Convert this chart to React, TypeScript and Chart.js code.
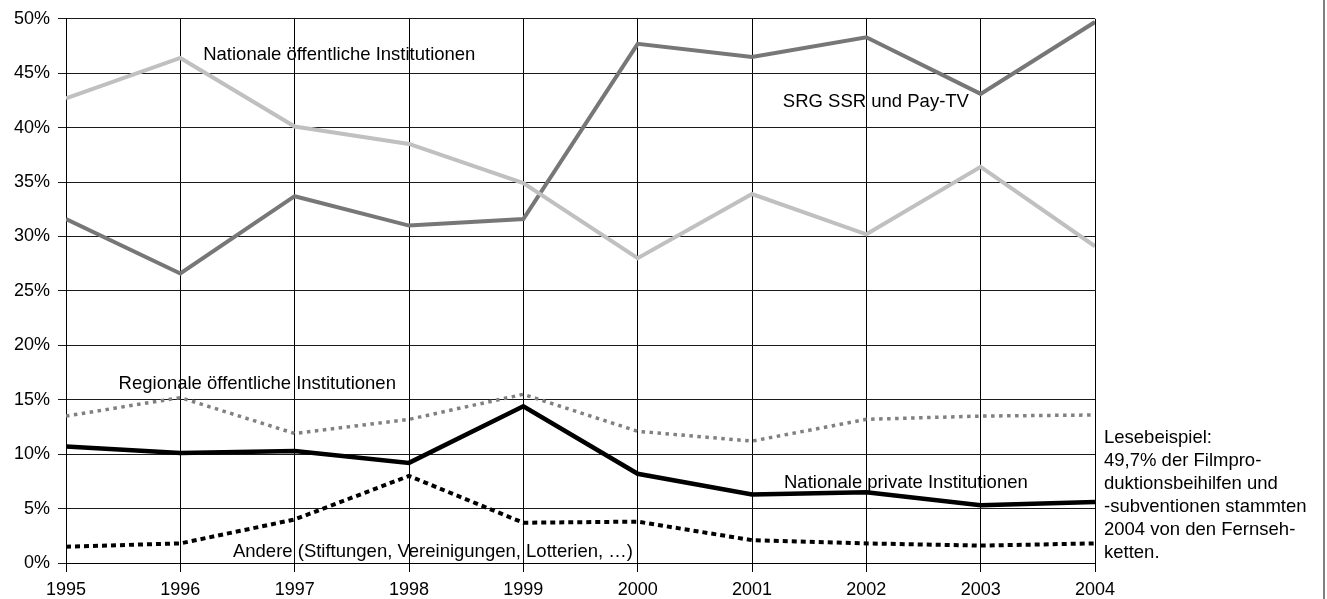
import React, { useEffect, useRef } from "react";
import { Chart, registerables } from "chart.js";

Chart.register(...registerables);

const years = [1995, 1996, 1997, 1998, 1999, 2000, 2001, 2002, 2003, 2004];
const srgSsr = [31.6, 26.6, 33.7, 31.0, 31.6, 47.7, 46.5, 48.3, 43.1, 49.7];
const nationaleOeffentliche = [42.7, 46.4, 40.1, 38.5, 34.9, 28.0, 33.9, 30.2, 36.4, 29.1];
const regionaleOeffentliche = [13.5, 15.2, 11.9, 13.2, 15.5, 12.1, 11.2, 13.2, 13.5, 13.6];
const nationalePrivate = [10.7, 10.1, 10.3, 9.2, 14.4, 8.2, 6.3, 6.5, 5.3, 5.6];
const andere = [1.5, 1.8, 4.0, 8.0, 3.7, 3.8, 2.1, 1.8, 1.6, 1.8];

const yTicks = [0, 5, 10, 15, 20, 25, 30, 35, 40, 45, 50];

const seriesLabels = [
  "SRG SSR und Pay-TV",
  "Nationale öffentliche Institutionen",
  "Regionale öffentliche Institutionen",
  "Nationale private Institutionen",
  "Andere (Stiftungen, Vereinigungen, Lotterien, …)",
];

// in-chart text labels anchored at data coordinates [year, percent]
const labelTexts = [
  "Nationale öffentliche Institutionen",
  "SRG SSR und Pay-TV",
  "Regionale öffentliche Institutionen",
  "Nationale private Institutionen",
  "Andere (Stiftungen, Vereinigungen, Lotterien, …)",
];
const labelX = [1996.2, 2001.27, 1995.46, 2001.28, 1996.46];
const labelY = [46.2, 41.9, 16.0, 6.9, 0.55];

const noteLines = [
  "Lesebeispiel:",
  "49,7% der Filmpro-",
  "duktionsbeihilfen und",
  "-subventionen stammten",
  "2004 von den Fernseh-",
  "ketten.",
];
const noteAnchorY = 11.0;

const FONT = '"Liberation Sans", Arial, Helvetica, sans-serif';

const toPoints = (vals: number[]) => vals.map((v, i) => ({ x: years[i], y: v }));

export default function App() {
  const ref = useRef<HTMLCanvasElement | null>(null);

  useEffect(() => {
    document.body.style.margin = "0";
    const canvas = ref.current;
    if (!canvas) return;

    const textPlugin = {
      id: "texts",
      afterDatasetsDraw(chart: any) {
        const ctx = chart.ctx;
        const xs = chart.scales.x;
        const ys = chart.scales.y;
        ctx.save();
        ctx.fillStyle = "#000";
        ctx.font = `18.5px ${FONT}`;
        ctx.textBaseline = "alphabetic";
        ctx.textAlign = "left";
        labelTexts.forEach((t, i) => {
          ctx.fillText(t, xs.getPixelForValue(labelX[i]), ys.getPixelForValue(labelY[i]));
        });
        ctx.font = `18.5px ${FONT}`;
        const nx = chart.chartArea.right + 9;
        const ny = ys.getPixelForValue(noteAnchorY);
        noteLines.forEach((t, i) => {
          ctx.fillText(t, nx, ny + i * 23);
        });
        // right frame line
        ctx.strokeStyle = "#808080";
        ctx.lineWidth = 2;
        ctx.beginPath();
        ctx.moveTo(chart.width - 3, 0);
        ctx.lineTo(chart.width - 3, chart.height);
        ctx.stroke();
        ctx.restore();
      },
    };

    const chart = new Chart(canvas, {
      type: "line",
      data: {
        datasets: [
          {
            label: seriesLabels[1],
            data: toPoints(nationaleOeffentliche),
            borderColor: "#c0c0c0",
            borderWidth: 4,
          },
          {
            label: seriesLabels[0],
            data: toPoints(srgSsr),
            borderColor: "#777777",
            borderWidth: 4,
          },
          {
            label: seriesLabels[3],
            data: toPoints(nationalePrivate),
            borderColor: "#000000",
            borderWidth: 4.5,
          },
          {
            label: seriesLabels[2],
            data: toPoints(regionaleOeffentliche),
            borderColor: "#808080",
            borderWidth: 3.5,
            borderDash: [3.5, 4.5],
          },
          {
            label: seriesLabels[4],
            data: toPoints(andere),
            borderColor: "#000000",
            borderWidth: 4,
            borderDash: [5, 4],
          },
        ],
      },
      options: {
        animation: false,
        responsive: false,
        devicePixelRatio: 1,
        layout: { padding: { top: 17, right: 232, left: 0, bottom: 0 } },
        elements: {
          point: { radius: 0, hoverRadius: 0 },
          line: { tension: 0, fill: false, borderCapStyle: "butt", borderJoinStyle: "miter" },
        },
        plugins: {
          legend: { display: false },
          tooltip: { enabled: false },
          title: { display: false },
        },
        scales: {
          x: {
            type: "linear",
            min: years[0],
            max: years[years.length - 1],
            afterFit: (s: any) => {
              s.height = 36;
            },
            afterBuildTicks: (s: any) => {
              s.ticks = years.map((v) => ({ value: v }));
            },
            ticks: {
              color: "#000",
              font: { family: FONT, size: 18 },
              padding: 7,
              maxRotation: 0,
              autoSkip: false,
              callback: (v: any) => String(v),
            },
            grid: { color: "#000", lineWidth: 1, tickLength: 9, drawTicks: true },
            border: { display: true, color: "#000", width: 1 },
          },
          y: {
            min: 0,
            max: 50,
            afterFit: (s: any) => {
              s.width = 66;
            },
            afterBuildTicks: (s: any) => {
              s.ticks = yTicks.map((v) => ({ value: v }));
            },
            ticks: {
              color: "#000",
              font: { family: FONT, size: 18 },
              padding: 8,
              callback: (v: any) => v + "%",
            },
            grid: { color: "#1a1a1a", lineWidth: 1, tickLength: 8, drawTicks: true },
            border: { display: true, color: "#000", width: 1 },
          },
        },
      },
      plugins: [textPlugin],
    });

    return () => chart.destroy();
  }, []);

  return (
    <canvas
      ref={ref}
      width={1327}
      height={599}
      style={{ display: "block", width: 1327, height: 599 }}
    />
  );
}
